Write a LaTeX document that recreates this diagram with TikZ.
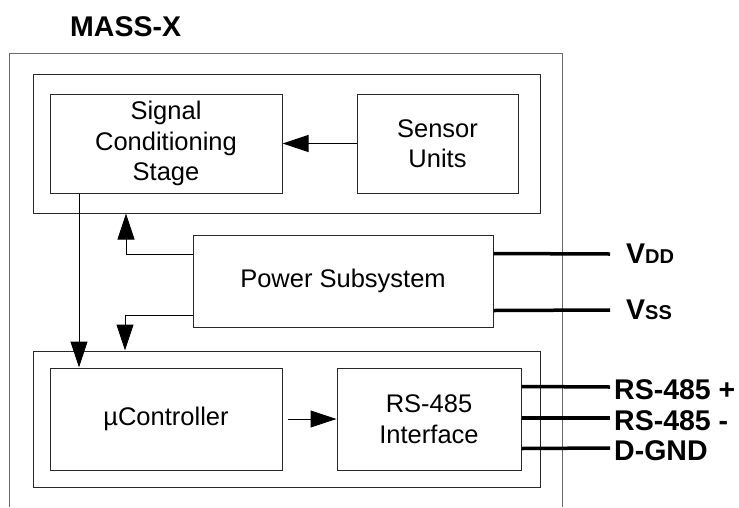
\documentclass[tikz,border=0pt]{standalone}
\usepackage{fontspec}
\setmainfont{Liberation Sans}
\usetikzlibrary{arrows.meta, positioning}
\definecolor{boxline}{RGB}{40,40,40}
\definecolor{frameline}{RGB}{105,105,105}
\tikzset{
  block/.style={rectangle, draw=boxline, line width=1pt, align=center,
    font=\fontsize{25.5}{30.5}\selectfont, inner sep=0pt},
  group/.style={rectangle, draw=boxline, line width=1pt, inner sep=0pt},
  arrow/.style={-{Triangle[length=26pt,width=17pt]}, line width=1pt, color=black},
  bus/.style={line width=3.5pt, color=black},
  pinlabel/.style={anchor=west, inner sep=0pt, font=\fontsize{28.5}{30}\selectfont\bfseries}
}

\begin{document}
\begin{tikzpicture}[x=1pt, y=-1pt]
  \useasboundingbox (0,0) rectangle (739,507);

  % Module frame (open at the bottom)
  \draw[frameline, line width=1pt] (9,507) -- (9,53) -- (562,53) -- (562,507);
  \node[pinlabel] (title) at (70,27) {MASS-X};

  % Sensor group
  \node[group, minimum width=507pt, minimum height=139pt] (topgrp) at (286.5,143.5) {};
  \node[block, minimum width=232pt, minimum height=99pt] (cond) at (166,143.5) {Signal\\Conditioning\\Stage};
  \node[block, minimum width=161pt, minimum height=99pt] (sens) at (437.5,143.5) {Sensor\\Units};

  % Power
  \node[block, minimum width=300pt, minimum height=92pt] (power) at (343,281) {Power Subsystem};

  % Controller group
  \node[group, minimum width=507pt, minimum height=136pt] (botgrp) at (286.5,419) {};
  \node[block, minimum width=232pt, minimum height=102pt] (mcu) at (166,419) {µController};
  \node[block, minimum width=184pt, minimum height=102pt] (rs) at (429,419) {RS-485\\Interface};

  % Internal signal paths
  \coordinate (topin) at (topgrp.south -| 126,0);
  \coordinate (botin) at (botgrp.north -| 125,0);
  \coordinate (condout) at ([xshift=-87pt]cond.south);
  \draw[arrow] (sens.west) -- (cond.east);
  \draw[arrow] ([yshift=-20pt]power.north west) -| (topin);
  \draw[arrow] ([yshift=12pt]power.south west) -| (botin);
  \draw[arrow] (condout) -- (condout |- mcu.north);
  \draw[arrow] ([xshift=5pt]mcu.east) -- (rs.west);

  % Supply pins
  \coordinate (vddend) at (610,254);
  \coordinate (vssend) at (610,310);
  \draw[bus] ([yshift=-19pt]power.north east) -- (vddend);
  \draw[bus] ([yshift=17pt]power.south east) -- (vssend);
  \node[pinlabel, right=16pt of vddend] (vdd) {V{\fontsize{20}{20}\selectfont DD}};
  \node[pinlabel, right=16pt of vssend] (vss) {V{\fontsize{20}{20}\selectfont SS}};

  % Bus pins
  \coordinate (rspend) at (610,387);
  \coordinate (rsmend) at (610,418);
  \coordinate (gndend) at (610,448);
  \draw[bus] ([yshift=-19pt]rs.north east) -- (rspend);
  \draw[bus] ([yshift=1pt]rs.east) -- (rsmend);
  \draw[bus] ([yshift=22pt]rs.south east) -- (gndend);
  \node[pinlabel, right=4pt of rspend, yshift=-3pt] (rsp) {RS-485 +};
  \node[pinlabel, right=4pt of rsmend, yshift=-3pt] (rsm) {RS-485 -};
  \node[pinlabel, right=4pt of gndend, yshift=-3pt] (gnd) {D-GND};
\end{tikzpicture}
\end{document}
